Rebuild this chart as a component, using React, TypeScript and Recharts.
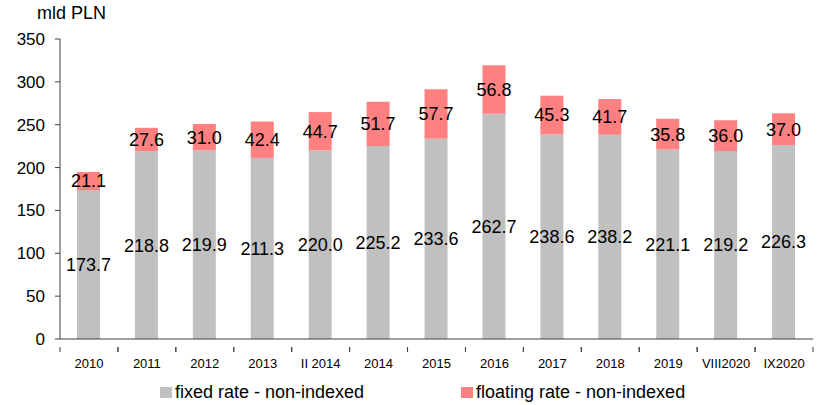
import { Bar, BarChart, LabelList, Legend, XAxis, YAxis } from "recharts";

const categories = ["2010", "2011", "2012", "2013", "II 2014", "2014", "2015", "2016", "2017", "2018", "2019", "VIII2020", "IX2020"];
const fixedRate = [173.7, 218.8, 219.9, 211.3, 220.0, 225.2, 233.6, 262.7, 238.6, 238.2, 221.1, 219.2, 226.3];
const floatingRate = [21.1, 27.6, 31.0, 42.4, 44.7, 51.7, 57.7, 56.8, 45.3, 41.7, 35.8, 36.0, 37.0];
const yTicks = [0, 50, 100, 150, 200, 250, 300, 350];

const data = categories.map((name, i) => ({
  name,
  fixed: fixedRate[i],
  floating: floatingRate[i],
}));

const FONT = "'Liberation Sans', Arial, sans-serif";
const GRAY = "#c0c0c0";
const PINK = "#ff8080";
const AXIS = "#404040";

// Excel-style ticks: marks sit on category boundaries, labels in the middle
function CategoryTick(props: any) {
  const { x, y, payload } = props;
  const half = payload && payload.offset ? payload.offset : 28.96;
  return (
    <g>
      <line x1={x - half} y1={y} x2={x - half} y2={y + 5} stroke={AXIS} />
      <line x1={x + half} y1={y} x2={x + half} y2={y + 5} stroke={AXIS} />
      <text x={x} y={y + 21} textAnchor="middle" fontSize={13} fill="#000" fontFamily={FONT}>
        {payload.value}
      </text>
    </g>
  );
}

function LegendContent() {
  const items = [
    { label: "fixed rate - non-indexed", color: GRAY, left: 160 },
    { label: "floating rate - non-indexed", color: PINK, left: 461 },
  ];
  return (
    <div style={{ position: "relative", height: 24, fontFamily: FONT, fontSize: 18 }}>
      {items.map((it) => (
        <div
          key={it.label}
          style={{ position: "absolute", left: it.left, top: 2, display: "flex", alignItems: "center", whiteSpace: "nowrap" }}
        >
          <span style={{ width: 12, height: 11, backgroundColor: it.color, marginRight: 3 }} />
          <span>{it.label}</span>
        </div>
      ))}
    </div>
  );
}

const fmt = (v: any) => (typeof v === "number" ? v.toFixed(1) : v);

export default function App() {
  return (
    <div style={{ position: "absolute", left: 0, top: 0, width: 825, height: 405, background: "#fff", fontFamily: FONT }}>
      <div style={{ position: "absolute", left: 37, top: 3, fontSize: 18, color: "#000" }}>mld PLN</div>
      <BarChart
        width={825}
        height={405}
        data={data}
        margin={{ top: 39, right: 12, bottom: 12, left: 0 }}
        barCategoryGap={0}
      >
        <XAxis
          dataKey="name"
          height={30}
          tickLine={false}
          axisLine={{ stroke: AXIS }}
          tick={<CategoryTick />}
          interval={0}
        />
        <YAxis
          width={60}
          domain={[0, 350]}
          ticks={yTicks}
          interval={0}
          tickSize={5}
          tickMargin={10}
          axisLine={{ stroke: AXIS }}
          tickLine={{ stroke: AXIS }}
          tick={{ fontSize: 17, fill: "#000", fontFamily: FONT }}
        />
        <Legend
          content={<LegendContent />}
          wrapperStyle={{ top: 380, left: 0, width: 825, height: 24 }}
        />
        <Bar dataKey="fixed" stackId="a" fill={GRAY} barSize={23} isAnimationActive={false}>
          <LabelList dataKey="fixed" position="center" formatter={fmt} fill="#000" fontSize={18} fontFamily={FONT} />
        </Bar>
        <Bar dataKey="floating" stackId="a" fill={PINK} barSize={23} isAnimationActive={false}>
          <LabelList dataKey="floating" position="center" formatter={fmt} fill="#000" fontSize={18} fontFamily={FONT} />
        </Bar>
      </BarChart>
    </div>
  );
}
